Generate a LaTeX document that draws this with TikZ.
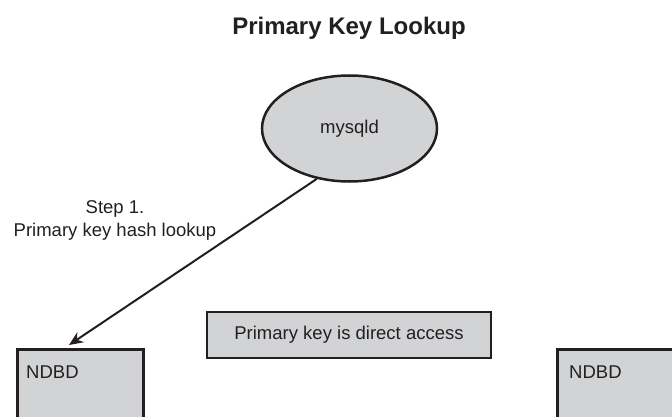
\documentclass[tikz,border=0pt]{standalone}
\usepackage{fontspec}
\setmainfont{Liberation Sans}
\usetikzlibrary{arrows.meta,calc,shapes.geometric}
\definecolor{boxfill}{HTML}{D1D3D4}
\definecolor{ink}{HTML}{231F20}
\tikzset{
  shape box/.style={draw=ink, fill=boxfill, line width=2.5pt, inner sep=0pt},
  lbl/.style={font=\fontsize{18.5}{23}\selectfont, text=ink, inner sep=0pt},
  conn/.style={draw=ink, line width=2pt, -{Stealth[length=14pt,width=12pt]}}
}
\begin{document}
\begin{tikzpicture}[x=1pt,y=1pt]
\useasboundingbox (0,0) rectangle (672,416);
\clip (0,0) rectangle (672,416);
\node[lbl, font=\fontsize{24}{28}\selectfont\bfseries] (title) at (349,388) {Primary Key Lookup};
\node[shape box, ellipse, minimum width=175pt, minimum height=106pt] (mysqld) at (349.5,287.5) {};
\node[lbl] (mysqldtxt) at (mysqld.center) {mysqld};
\node[shape box, anchor=north west, minimum width=126pt, minimum height=100pt] (ndbdL) at (16,68) {};
\node[lbl, anchor=west] (ndbdLtxt) at ($(ndbdL.north west)+(10,-24)$) {NDBD};
\node[shape box, anchor=north west, minimum width=140pt, minimum height=100pt] (ndbdR) at (556,68) {};
\node[lbl, anchor=west] (ndbdRtxt) at ($(ndbdR.north west)+(13,-24)$) {NDBD};
\node[shape box, minimum width=284pt, minimum height=46pt] (direct) at (349,81) {};
\node[lbl] (directtxt) at (direct.center) {Primary key is direct access};
\node[lbl, align=center] (step) at (115,196) {Step 1.\\Primary key hash lookup};
\coordinate (tip) at ($(ndbdL.north west)+(53,3)$);
\draw[conn] (mysqld.237) -- (tip);
\end{tikzpicture}
\end{document}
